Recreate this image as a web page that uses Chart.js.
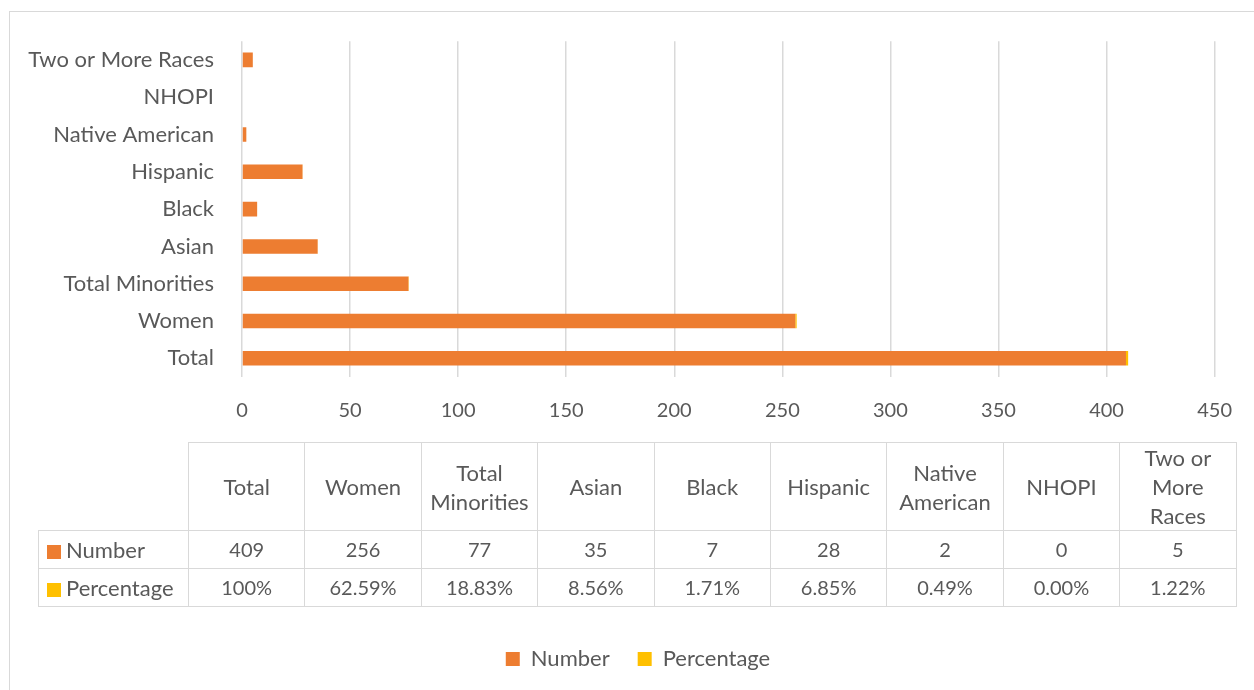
<!DOCTYPE html>
<html lang="en">
<head>
<meta charset="UTF-8">
<title>Faculty by Gender and Race</title>
<script src="https://cdn.jsdelivr.net/npm/chart.js"></script>
<style>
    body { margin: 0; background: #fff; font-family: Lato, "Open Sans", sans-serif; color: #595959; }
    #frame { position: absolute; left: 9px; top: 11px; width: 1300px; height: 720px; border: 1px solid #d9d9d9; }
    #wrap { position: absolute; left: 0; top: 0; width: 1254px; height: 690px; }
    #dataTable { position: absolute; left: 38px; top: 442px; border-collapse: collapse; table-layout: fixed; font-size: 22px; color: #595959; }
    #dataTable td { border: 1.5px solid #d9d9d9; text-align: center; padding: 0 8px; }
    #dataTable tr.head td { height: 87px; line-height: 29px; }
    #dataTable tr.row td { height: 37px; line-height: 35px; font-size: 20px; }
    #dataTable tr.row td.series { font-size: 22px; }
    #dataTable td.corner { border-top: none; border-left: none; }
    #dataTable td.series { text-align: left; padding-left: 8px; white-space: nowrap; }
    .key { display: inline-block; width: 14px; height: 14px; margin-right: 5px; vertical-align: -1px; }
</style>
</head>
<body>
<div id="frame"></div>
<div id="wrap"><canvas id="facultyChart"></canvas></div>
<table id="dataTable">
    <colgroup><col style="width:150px"></colgroup>
    <tbody></tbody>
</table>

<script>
    const categories = ['Total', 'Women', 'Total Minorities', 'Asian', 'Black', 'Hispanic', 'Native American', 'NHOPI', 'Two or More Races'];
    const numbers = [409, 256, 77, 35, 7, 28, 2, 0, 5];
    const percentLabels = ['100%', '62.59%', '18.83%', '8.56%', '1.71%', '6.85%', '0.49%', '0.00%', '1.22%'];
    const xTicks = [0, 50, 100, 150, 200, 250, 300, 350, 400, 450];

    const orange = '#ED7D31';
    const gold = '#FFC000';
    const textColor = '#595959';
    const fontFamily = 'Lato, "Open Sans", sans-serif';

    // percentages are stacked as fractions onto the end of each bar
    const shares = percentLabels.map(s => parseFloat(s) / 100);

    // data table under the chart
    const tbody = document.querySelector('#dataTable tbody');
    const colgroup = document.querySelector('#dataTable colgroup');
    categories.forEach(() => {
        const col = document.createElement('col');
        col.style.width = '116.4px';
        colgroup.appendChild(col);
    });
    let html = '<tr class="head"><td class="corner"></td>' + categories.map(c => '<td>' + c + '</td>').join('') + '</tr>';
    html += '<tr class="row"><td class="series"><span class="key" style="background:' + orange + '"></span>Number</td>' +
        numbers.map(n => '<td>' + n + '</td>').join('') + '</tr>';
    html += '<tr class="row"><td class="series"><span class="key" style="background:' + gold + '"></span>Percentage</td>' +
        percentLabels.map(p => '<td>' + p + '</td>').join('') + '</tr>';
    tbody.innerHTML = html;

    const ctx = document.getElementById('facultyChart').getContext('2d');
    const facultyChart = new Chart(ctx, {
        type: 'bar',
        data: {
            labels: categories,
            datasets: [{
                label: 'Number',
                data: numbers,
                backgroundColor: orange,
                barPercentage: 0.39,
                categoryPercentage: 1
            }, {
                label: 'Percentage',
                data: shares,
                backgroundColor: gold,
                barPercentage: 0.39,
                categoryPercentage: 1
            }]
        },
        options: {
            indexAxis: 'y',
            responsive: true,
            maintainAspectRatio: false,
            animation: false,
            layout: { padding: { left: 22, right: 0, top: 40, bottom: 10 } },
            plugins: {
                tooltip: { enabled: false },
                legend: {
                    position: 'bottom',
                    labels: {
                        boxWidth: 14,
                        boxHeight: 14,
                        padding: 28,
                        color: textColor,
                        font: { family: fontFamily, size: 22 }
                    }
                }
            },
            scales: {
                x: {
                    stacked: true,
                    min: 0,
                    max: 450,
                    afterBuildTicks: scale => { scale.ticks = xTicks.map(v => ({ value: v })); },
                    ticks: { color: textColor, padding: 22, font: { family: fontFamily, size: 20 } },
                    grid: { color: '#d9d9d9', lineWidth: 1.5, drawTicks: false },
                    border: { display: false },
                    afterFit: scale => { scale.height = 243; }
                },
                y: {
                    stacked: true,
                    reverse: true,
                    ticks: { color: textColor, padding: 28, font: { family: fontFamily, size: 22 } },
                    grid: { display: false, drawTicks: false },
                    border: { display: false },
                    afterFit: scale => { scale.width = 220; }
                },
                // empty axis that keeps the right margin of the plot
                yRight: {
                    position: 'right',
                    display: true,
                    ticks: { display: false },
                    grid: { display: false, drawTicks: false },
                    border: { display: false },
                    afterFit: scale => { scale.width = 38; }
                }
            }
        }
    });
</script>
</body>
</html>
